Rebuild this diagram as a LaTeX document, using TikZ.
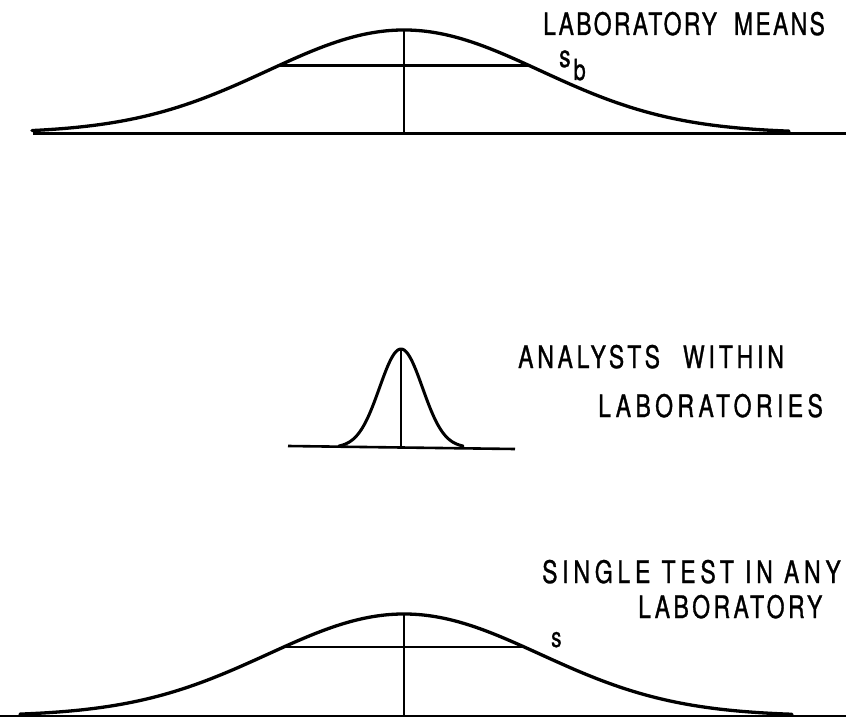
\documentclass[tikz,border=0pt]{standalone}
\usepackage{fontspec}
\setmainfont{TeX Gyre Heros}[FakeStretch=0.74,FakeBold=1]
\begin{document}
\begin{tikzpicture}[x=1pt,y=-1pt,
  curve/.style={line width=3.3pt,line join=round,line cap=round},
  bar/.style={line width=2.8pt},
  axis/.style={line width=3pt},
  lbl/.style={inner sep=0pt,anchor=base west,font=\fontsize{31}{31}\selectfont},
  sym/.style={inner sep=0pt,anchor=base west,font=\fontsize{31}{31}\selectfont}]
\useasboundingbox (0,0) rectangle (846,717);

% ---------- top: laboratory means ----------
\coordinate (tpeak) at (404,30);
\coordinate (tbase) at (404,133);
\coordinate (taxL) at (33,133);
\coordinate (taxR) at (846,133);
\coordinate (tbarL) at (280,65.5);
\coordinate (tbarR) at (529,65.5);
\draw[axis] (taxL) -- (taxR);
\draw[curve] plot[domain=-372:385,samples=140,smooth]
  ({404+\x},{133-103*exp(-0.5*(\x/136)*(\x/136))});
\draw[bar] (tpeak) -- (tbase);
\draw[bar] (tbarL) -- (tbarR);
\node[lbl] (tlab) at (543,35) {\addfontfeature{LetterSpace=7.5}LABORATORY\hspace{17pt}MEANS};
\node[sym] (ts) at (559,67) {s};
\node[sym,font=\fontsize{29}{29}\selectfont] (tb) at (573.5,80) {b};

% ---------- middle: analysts within laboratories ----------
\coordinate (mpeak) at (401,349);
\coordinate (mbase) at (401,447.5);
\coordinate (maxL) at (288,446);
\coordinate (maxR) at (515,449);
\draw[axis,line width=2.6pt] (maxL) -- (maxR);
\draw[curve,line width=3pt] plot[domain=-62:62,samples=90,smooth]
  ({401+\x},{447.5-98.5*exp(-0.5*(\x/21.5)*(\x/21.5))});
\draw[bar] (mpeak) -- (mbase);
\node[lbl] (mlab1) at (518,368) {\addfontfeature{LetterSpace=12.5}ANALYSTS\hspace{23pt}WITHIN};
\node[lbl] (mlab2) at (598,417) {\addfontfeature{LetterSpace=14.4}LABORATORIES};

% ---------- bottom: single test in any laboratory ----------
\coordinate (bpeak) at (404,614);
\coordinate (bbase) at (404,716);
\coordinate (baxL) at (0,716);
\coordinate (baxR) at (846,716);
\coordinate (bbarL) at (286,647);
\coordinate (bbarR) at (526,647);
\draw[axis] (baxL) -- (baxR);
\draw[curve] plot[domain=-384:388,samples=140,smooth]
  ({404+\x},{716-102*exp(-0.5*(\x/136)*(\x/136))});
\draw[bar] (bpeak) -- (bbase);
\draw[bar] (bbarL) -- (bbarR);
\node[lbl] (blab1) at (542,583) {\addfontfeature{LetterSpace=15.5}SINGLE TEST IN ANY};
\node[lbl] (blab2) at (638,618) {\addfontfeature{LetterSpace=11.2}LABORATORY};
\node[sym,font=\fontsize{28}{28}\selectfont] (bs) at (551,647) {s};
\end{tikzpicture}
\end{document}
